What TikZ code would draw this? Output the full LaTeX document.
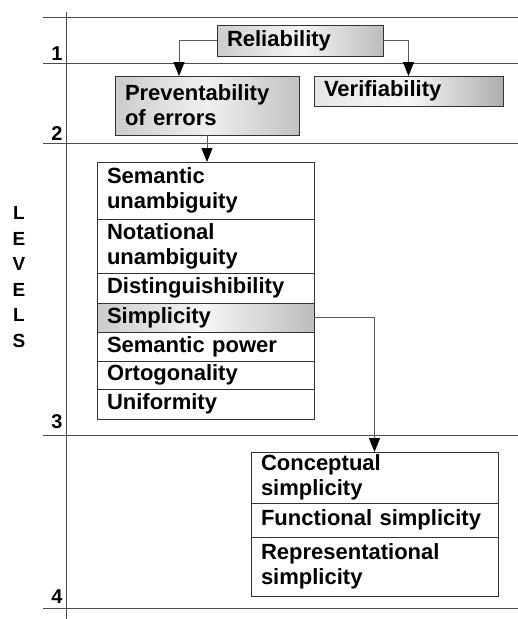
\documentclass[tikz,border=0pt]{standalone}
\usepackage{fontspec}
\setmainfont{Liberation Sans}
\usetikzlibrary{arrows.meta,calc}
\begin{document}
\begin{tikzpicture}[x=1pt,y=-1pt,
  every node/.style={font=\fontsize{22}{25}\selectfont\bfseries},
  lvline/.style={draw=black!70, line width=0.9pt},
  lvnum/.style={anchor=base, font=\fontsize{20}{22}\selectfont\bfseries, inner sep=0pt},
  cell/.style={draw=black!80, line width=0.8pt, anchor=north west,
    inner xsep=10pt, inner ysep=0pt, outer sep=0pt, align=left},
  shadeA/.style={left color=black!20, right color=black!26, middle color=black!4},
  shadeB/.style={left color=black!20, right color=black!24, middle color=black!6},
  shadeC/.style={left color=black!10, right color=black!32, middle color=black!3},
  conn/.style={draw=black!65, line width=0.9pt,
    -{Triangle[length=14pt,width=11pt,color=black]}}
]
\useasboundingbox (0,0) rectangle (518,619);

% level axis and level separators
\draw[lvline] (66,12) -- (66,619);
\foreach \yy in {17,63,143,435,608} \draw[lvline] (43,\yy) -- (518,\yy);
\node[lvnum] (n1) at (57,60) {1};
\node[lvnum] (n2) at (57,140) {2};
\node[lvnum] (n3) at (57,428) {3};
\node[lvnum] (n4) at (57,603) {4};
\node[align=center, inner sep=0pt, font=\fontsize{19}{25.5}\selectfont\bfseries]
  (levels) at (19,277) {L\\E\\V\\E\\L\\S};

% level 1 and 2
\node[cell, shadeA, text width=146pt, minimum height=31pt] (rel) at (217,25) {Reliability};
\node[cell, shadeB, text width=164pt, minimum height=59pt] (prev) at (115,76) {Preventability\\of errors};
\node[cell, shadeC, text width=169pt, minimum height=30pt] (verif) at (314,76) {Verifiability};

% level 3 list
\node[cell, fill=white, text width=197pt, minimum height=57pt] (r1) at (97,162) {Semantic\\unambiguity};
\node[cell, fill=white, text width=197pt, minimum height=54pt] (r2) at (97,219) {Notational\\unambiguity};
\node[cell, fill=white, text width=197pt, minimum height=30pt] (r3) at (97,273) {Distinguishibility};
\node[cell, shadeA, text width=197pt, minimum height=29pt] (r4) at (97,303) {Simplicity};
\node[cell, fill=white, text width=197pt, minimum height=29pt] (r5) at (97,332) {Semantic power};
\node[cell, fill=white, text width=197pt, minimum height=28pt] (r6) at (97,361) {Ortogonality};
\node[cell, fill=white, text width=197pt, minimum height=30pt] (r7) at (97,389) {Uniformity};

% level 4 list
\node[cell, fill=white, text width=227pt, minimum height=51pt] (c1) at (251,452) {Conceptual\\simplicity};
\node[cell, fill=white, text width=227pt, minimum height=34pt] (c2) at (251,503) {Functional simplicity};
\node[cell, fill=white, text width=227pt, minimum height=59pt] (c3) at (251,537) {Representational\\simplicity};

% connectors
\draw[conn] (rel.west) -| ($(prev.north west)+(64,0)$);
\draw[conn] (rel.east) -| (verif.north);
\draw[conn] (prev.south) -- (prev.south |- r1.north);
\draw[conn] (r4.east) -| (c1.north);
\end{tikzpicture}
\end{document}
